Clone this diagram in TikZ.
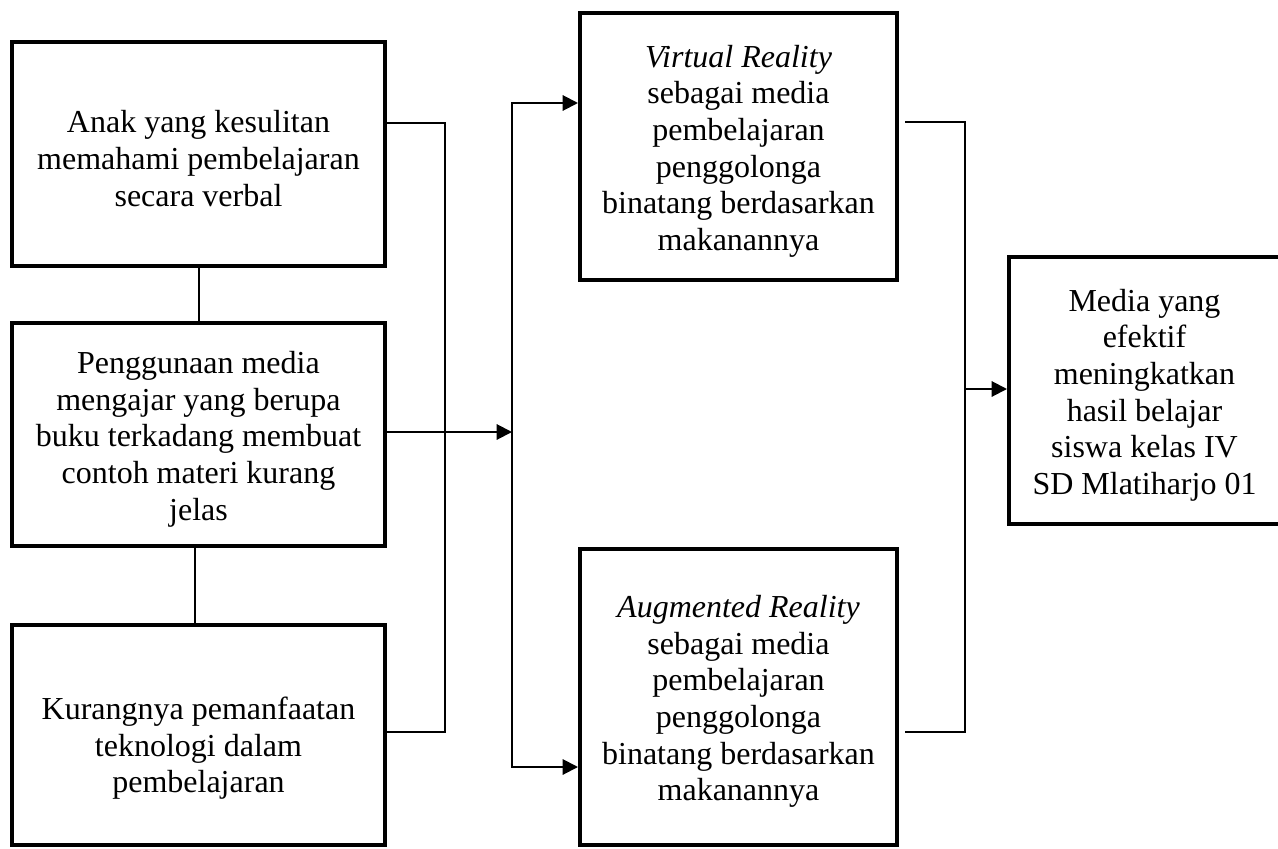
\documentclass[tikz,border=0pt]{standalone}
\usepackage{fontspec}
\setmainfont{Liberation Serif}
\usetikzlibrary{arrows.meta,calc}
\newcommand\lowered[3]{\raisebox{-#1}[\height][\depth]{\parbox{#2}{\centering #3}}}
\begin{document}
\begin{tikzpicture}[x=0.75pt,y=-0.75pt,
  box/.style={draw, line width=3pt, rectangle, align=center, inner sep=0pt,
    font=\fontsize{24}{27.5}\selectfont},
  conn/.style={line width=1.5pt},
  tip/.tip={Triangle[length=11.5pt,width=11.5pt]},
  arr/.style={conn, -tip}]
\useasboundingbox (0,0) rectangle (1278,849);
% left column
\node[box, minimum width=279.75pt, minimum height=168pt] (b1) at (198.5,154)
  {\lowered{3.5pt}{260pt}{Anak yang kesulitan\\memahami pembelajaran\\secara verbal}};
\node[box, minimum width=279.75pt, minimum height=167.25pt] (b2) at (198.5,434.5)
  {\lowered{3.5pt}{260pt}{Penggunaan media\\mengajar yang berupa\\buku terkadang membuat\\contoh materi kurang\\jelas}};
\node[box, minimum width=279.75pt, minimum height=165pt] (b3) at (198.5,735)
  {\lowered{10pt}{260pt}{Kurangnya pemanfaatan\\teknologi dalam\\pembelajaran}};
% middle column
\node[box, minimum width=237.75pt, minimum height=200.25pt] (b4) at (738.5,146.5)
  {\lowered{3.5pt}{230pt}{\textit{Virtual Reality}\\sebagai media\\pembelajaran\\penggolonga\\binatang berdasarkan\\makanannya}};
\node[box, minimum width=237.75pt, minimum height=222pt] (b5) at (738.5,697)
  {\lowered{3.5pt}{230pt}{\textit{Augmented Reality}\\sebagai media\\pembelajaran\\penggolonga\\binatang berdasarkan\\makanannya}};
% right
\node[box, minimum width=203.25pt, minimum height=200.25pt] (b6) at (1144.5,390.5)
  {\lowered{3.5pt}{200pt}{Media yang\\efektif\\meningkatkan\\hasil belajar\\siswa kelas IV\\SD Mlatiharjo 01}};
% junction points
\coordinate (jL1) at (445,123);
\coordinate (jL3) at (445,732);
\coordinate (jM1) at (512,103);
\coordinate (jM2) at (512,767);
\coordinate (jR1) at (965,122);
\coordinate (jR2) at (965,732);
\coordinate (jR) at (965,389);
\coordinate (r4) at ($(b4.east |- jR1)+(6,0)$);
\coordinate (r5) at ($(b5.east |- jR2)+(6,0)$);
% vertical links in left column
\draw[conn] ($(b1.south)+(0.5,0)$) -- ($(b2.north)+(0.5,0)$);
\draw[conn] ($(b2.south)+(-3.5,0)$) -- ($(b3.north)+(-3.5,0)$);
% left bracket
\draw[conn] (b1.east |- jL1) -- (jL1) -- (jL3) -- (b3.east |- jL3);
\draw[arr] (b2.east |- 0,432) -- (jM1 |- 0,432);
% middle split
\draw[conn, tip-tip] (b4.west |- jM1) -- (jM1) -- (jM2) -- (b5.west |- jM2);
% right bracket
\draw[conn] (r4) -- (jR1) -- (jR2) -- (r5);
\draw[arr] (jR) -- (b6.west |- jR);
\end{tikzpicture}
\end{document}
